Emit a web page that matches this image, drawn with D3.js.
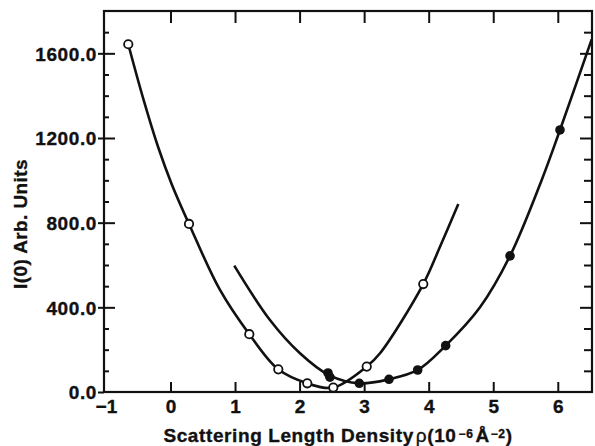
<!DOCTYPE html>
<html>
<head>
<meta charset="utf-8">
<script src="https://cdn.jsdelivr.net/npm/d3@7"></script>
<style>
  body { margin: 0; background: #fff; }
  svg text { font-family: "Liberation Sans", Arial, Helvetica, sans-serif; font-weight: bold; fill: #111; stroke: #111; stroke-width: 0.35px; }
</style>
</head>
<body>
<div class="chart"></div>
<script>
// axis ticks
const xTicks = [-1, 0, 1, 2, 3, 4, 5, 6];
const yTicks = [0, 400, 800, 1200, 1600];
const yMinor = [100, 200, 300, 500, 600, 700, 900, 1000, 1100, 1300, 1400, 1500, 1700];

// open circles (measured points)
const openX = [-0.654, 0.287, 1.221, 1.67, 2.119, 2.522, 3.04, 3.916];
const openY = [1643, 794, 273, 107, 41, 21, 120, 510];

// fitted curve through open circles
const openCurveX = [-0.654, -0.421, -0.189, 0.019, 0.287, 0.767, 1.221, 1.67, 2.119, 2.522, 3.04, 3.246, 3.916, 4.175, 4.459];
const openCurveY = [1643, 1385, 1155, 982, 794, 482, 273, 107, 41, 21, 120, 183, 510, 686, 888];

// filled circles
const filledX = [2.44, 2.47, 2.925, 3.385, 3.83, 4.263, 5.26, 6.034];
const filledY = [90, 70, 41, 60, 104, 219, 643, 1238];

// fitted curve through filled circles
const filledCurveX = [0.988, 1.541, 2.006, 2.455, 2.925, 3.385, 3.83, 4.263, 4.795, 5.26, 5.751, 6.034, 6.525];
const filledCurveY = [597, 340, 183, 80, 41, 60, 104, 219, 400, 643, 1002, 1238, 1666];

//SVG size and plot box
const width = 595, height = 446;
const box = { left: 104, right: 592, top: 11, bottom: 392 };

const svg = d3
  .select(".chart")
  .append("svg")
  .attr("width", width)
  .attr("height", height);

const x = d3.scaleLinear().domain([-1.03, 6.53]).range([box.left, box.right]);
const y = d3.scaleLinear().domain([0, 1800]).range([box.bottom, box.top]);

function clean(g) {
  g.select(".domain").remove();
  g.selectAll(".tick line").attr("stroke", "#111").attr("stroke-width", 2);
}

//left axis: labels + outside stubs
svg.append("g")
  .attr("transform", `translate(${box.left},0)`)
  .call(d3.axisLeft(y).tickValues(yTicks).tickSize(6).tickSizeOuter(0).tickPadding(1).tickFormat(d3.format(".1f")))
  .call(clean)
  .selectAll("text")
  .style("font-size", "19px")
  .style("letter-spacing", "0.6px")
  .attr("dy", "0.36em");

//left inward ticks
svg.append("g")
  .attr("transform", `translate(${box.left},0)`)
  .call(d3.axisRight(y).tickValues(yTicks.slice(1)).tickSize(11).tickSizeOuter(0).tickFormat(""))
  .call(clean);
svg.append("g")
  .attr("transform", `translate(${box.left},0)`)
  .call(d3.axisRight(y).tickValues(yMinor).tickSize(5).tickSizeOuter(0).tickFormat(""))
  .call(clean);

//right inward ticks
svg.append("g")
  .attr("transform", `translate(${box.right},0)`)
  .call(d3.axisLeft(y).tickValues(yTicks.slice(1)).tickSize(12).tickSizeOuter(0).tickFormat(""))
  .call(clean);
svg.append("g")
  .attr("transform", `translate(${box.right},0)`)
  .call(d3.axisLeft(y).tickValues(yMinor).tickSize(8).tickSizeOuter(0).tickFormat(""))
  .call(clean);

//top ticks
svg.append("g")
  .attr("transform", `translate(0,${box.top})`)
  .call(d3.axisBottom(x).tickValues(xTicks.slice(1)).tickSize(12).tickSizeOuter(0).tickFormat(""))
  .call(clean);

//bottom ticks + labels
svg.append("g")
  .attr("transform", `translate(0,${box.bottom})`)
  .call(d3.axisTop(x).tickValues(xTicks.slice(1)).tickSize(10).tickSizeOuter(0).tickFormat(""))
  .call(clean);
svg.append("g")
  .attr("transform", `translate(0,${box.bottom})`)
  .call(d3.axisBottom(x).tickValues(xTicks).tickSize(0).tickSizeOuter(0).tickPadding(8).tickFormat(d3.format("d")))
  .call(g => g.select(".domain").remove())
  .selectAll("text")
  .style("font-size", "19px");

//frame
svg.append("rect")
  .attr("x", box.left)
  .attr("y", box.top)
  .attr("width", box.right - box.left)
  .attr("height", box.bottom - box.top)
  .attr("fill", "none")
  .attr("stroke", "#111")
  .attr("stroke-width", 2.2);

//curves
const line = d3.line()
  .x(d => x(d[0]))
  .y(d => y(d[1]))
  .curve(d3.curveCatmullRom.alpha(0.5));

svg.append("path")
  .attr("d", line(d3.zip(openCurveX, openCurveY)))
  .attr("fill", "none")
  .attr("stroke", "#111")
  .attr("stroke-width", 2.6);

svg.append("path")
  .attr("d", line(d3.zip(filledCurveX, filledCurveY)))
  .attr("fill", "none")
  .attr("stroke", "#111")
  .attr("stroke-width", 2.6);

//points
svg.selectAll("circle.open")
  .data(d3.zip(openX, openY))
  .enter()
  .append("circle")
  .attr("class", "open")
  .attr("cx", d => x(d[0]))
  .attr("cy", d => y(d[1]))
  .attr("r", 4.2)
  .attr("fill", "#fff")
  .attr("stroke", "#111")
  .attr("stroke-width", 1.8);

svg.selectAll("circle.filled")
  .data(d3.zip(filledX, filledY))
  .enter()
  .append("circle")
  .attr("class", "filled")
  .attr("cx", d => x(d[0]))
  .attr("cy", d => y(d[1]))
  .attr("r", 4.8)
  .attr("fill", "#111");

//axis titles
const xt = svg.append("text")
  .attr("x", 338)
  .attr("y", 442)
  .attr("text-anchor", "middle")
  .style("font-size", "19px")
  .style("letter-spacing", "0.6px");
xt.append("tspan").text("Scattering Length Density");
xt.append("tspan").attr("font-weight", "normal").attr("dx", 2).text("ρ");
xt.append("tspan").text("(10");
xt.append("tspan").attr("dy", -4).style("font-size", "12px").attr("dx", 2).text("−6");
xt.append("tspan").attr("dy", 4).attr("dx", 2).text("Å");
xt.append("tspan").attr("dy", -4).style("font-size", "12px").attr("dx", 1).text("−2");
xt.append("tspan").attr("dy", 4).text(")");

svg.append("text")
  .attr("transform", "translate(27,224) rotate(-90)")
  .attr("text-anchor", "middle")
  .style("font-size", "19px")
  .style("letter-spacing", "0.4px")
  .text("I(0) Arb. Units");
</script>
</body>
</html>
